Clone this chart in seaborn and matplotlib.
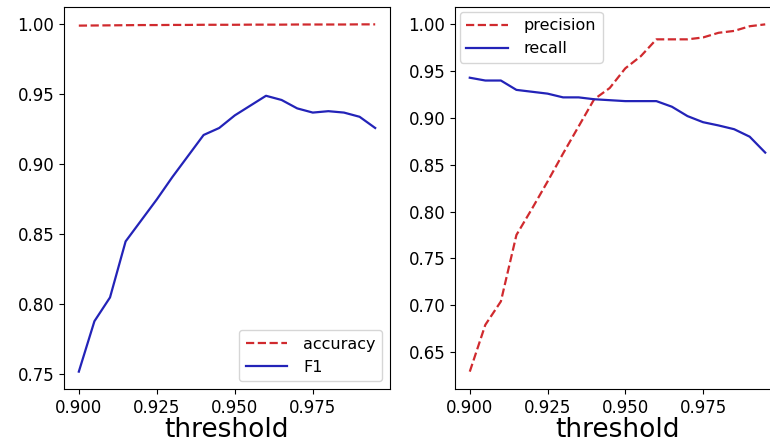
import matplotlib
matplotlib.use("Agg")
import matplotlib.pyplot as plt
import seaborn as sns
import pandas as pd

thresholds = [0.900, 0.905, 0.910, 0.915, 0.920, 0.925, 0.930, 0.935, 0.940, 0.945,
              0.950, 0.955, 0.960, 0.965, 0.970, 0.975, 0.980, 0.985, 0.990, 0.995]
accuracy = [0.9991, 0.9992, 0.9993, 0.9994, 0.9995, 0.9995, 0.9996, 0.9996, 0.9997, 0.9997,
            0.9997, 0.9998, 0.9998, 0.9998, 0.9999, 0.9999, 0.9999, 0.9999, 1.0000, 1.0000]
f1 = [0.752, 0.788, 0.805, 0.845, 0.860, 0.875, 0.891, 0.906, 0.921, 0.926,
      0.935, 0.942, 0.949, 0.946, 0.940, 0.937, 0.938, 0.937, 0.934, 0.926]
precision = [0.629, 0.679, 0.704, 0.775, 0.803, 0.832, 0.862, 0.891, 0.920, 0.932,
             0.953, 0.966, 0.984, 0.984, 0.984, 0.986, 0.991, 0.993, 0.998, 1.000]
recall = [0.943, 0.940, 0.940, 0.930, 0.928, 0.926, 0.922, 0.922, 0.920, 0.919,
          0.918, 0.918, 0.918, 0.912, 0.902, 0.8955, 0.892, 0.888, 0.880, 0.863]
xticks = [0.900, 0.925, 0.950, 0.975]
xlabel = "threshold"

RED = "#d02a2e"
BLUE = "#2323b8"

W, H = 770, 443
fig = plt.figure(figsize=(W / 100, H / 100), dpi=100)
ax1 = fig.add_axes([64 / W, (H - 389) / H, (390 - 64) / W, (389 - 7) / H])
ax2 = fig.add_axes([455 / W, (H - 389) / H, (780 - 455) / W, (389 - 7) / H])

df1 = pd.DataFrame({"threshold": thresholds, "accuracy": accuracy, "F1": f1})
df2 = pd.DataFrame({"threshold": thresholds, "precision": precision, "recall": recall})

sns.lineplot(data=df1, x="threshold", y="accuracy", ax=ax1, color=RED,
             linestyle="--", linewidth=1.6, label="accuracy")
sns.lineplot(data=df1, x="threshold", y="F1", ax=ax1, color=BLUE,
             linewidth=1.6, label="F1")
sns.lineplot(data=df2, x="threshold", y="precision", ax=ax2, color=RED,
             linestyle="--", linewidth=1.6, label="precision")
sns.lineplot(data=df2, x="threshold", y="recall", ax=ax2, color=BLUE,
             linewidth=1.6, label="recall")

for ax in (ax1, ax2):
    ax.set_xticks(xticks)
    ax.set_xticklabels([f"{t:.3f}" for t in xticks])
    ax.set_xlabel(xlabel, fontsize=19, labelpad=0)
    ax.set_ylabel("")
    ax.tick_params(labelsize=12)
    ax.yaxis.set_major_formatter(matplotlib.ticker.FormatStrFormatter("%.2f"))

ax1.legend(loc="lower right", fontsize=11.5, handlelength=2.6, handletextpad=1.0)
ax2.legend(loc="upper left", fontsize=11.5, handlelength=2.6, handletextpad=1.0,
           borderaxespad=0.3)

fig.savefig("out.png", dpi=100)
